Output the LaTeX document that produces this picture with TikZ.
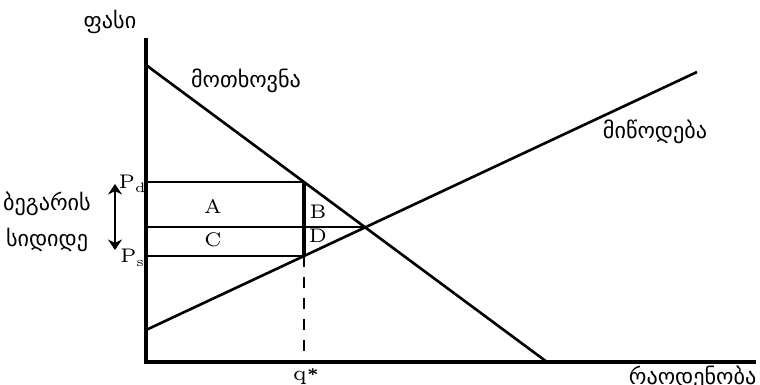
\documentclass[tikz,border=0pt]{standalone}
\usepackage{fontspec}
\newfontfamily\geofont{DejaVu Sans}
\usetikzlibrary{arrows.meta}

\begin{document}
\begin{tikzpicture}[
    x=0.01cm, y=-0.01cm,
    axis/.style={line width=0.9pt},
    curve/.style={line width=0.75pt},
    guide/.style={line width=0.3pt},
    geo/.style={font=\geofont\fontsize{6.3}{8}\selectfont, inner sep=0pt},
    letter/.style={font=\fontsize{5.6}{6}\selectfont, inner sep=0pt},
]
\useasboundingbox (0,0) rectangle (760,385);

% Axes
\coordinate (O)    at (146,362);
\coordinate (ytop) at (146,38);
\coordinate (xend) at (756,362);
\draw[axis] (ytop) -- (O) -- (xend);

% Demand and supply
\coordinate (dtop) at (146,65);
\coordinate (dbot) at (547,362);
\coordinate (sbot) at (146,330);
\coordinate (stop) at (697,72);
\draw[curve] (dtop) -- (dbot);
\draw[curve] (sbot) -- (stop);

% Tax wedge
\coordinate (pd)  at (146,182);
\coordinate (pdq) at (304,182);
\coordinate (pe)  at (146,227);
\coordinate (E)   at (365,227);
\coordinate (ps)  at (146,256);
\coordinate (psq) at (304,256);
\coordinate (q)   at (304,362);
\draw[guide] (pd) -- (pdq);
\draw[guide] (pe) -- (E);
\draw[guide] (ps) -- (psq);
\draw[axis] (pdq) -- (psq);
\draw[guide, dashed] (psq) -- (q);

% Areas
\node[letter] (A) at (213,206) {A};
\node[letter] (B) at (318,212) {B};
\node[letter] (C) at (213,240) {C};
\node[letter] (D) at (318,236) {D};

% Price labels
\node[letter] (Pd) at (133,184) {P\textsubscript{d}};
\node[letter] (Ps) at (133,258) {P\textsubscript{s}};
\node[letter, font=\fontsize{6}{7}\selectfont, anchor=base] (qs) at (306,381) {q{\fontsize{4.5}{5}\selectfont\textbf{*}}};

% Tax arrow
\coordinate (tup) at (115,184);
\coordinate (tdn) at (115,250);
\draw[guide, {Stealth[length=3pt,width=4pt]}-{Stealth[length=3pt,width=4pt]}] (tup) -- (tdn);
\node[geo] (tax1) at (47,204) {ბეგარის};
\node[geo] (tax2) at (47,240) {სიდიდე};

% Axis and curve names
\node[geo] (price)  at (110,22)  {ფასი};
\node[geo] (demand) at (246,81)  {მოთხოვნა};
\node[geo] (supply) at (655,132) {მიწოდება};
\node[geo, anchor=east] (qty) at (757,378) {რაოდენობა};
\end{tikzpicture}
\end{document}
